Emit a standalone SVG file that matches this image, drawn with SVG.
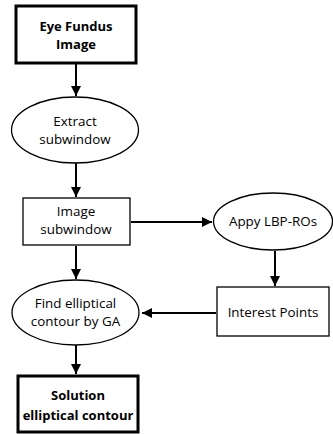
<svg xmlns="http://www.w3.org/2000/svg" width="333" height="434" viewBox="0 0 333 434">
<defs>
<marker id="ah" viewBox="0 0 10 10" refX="10" refY="5" markerWidth="5" markerHeight="5" orient="auto" markerUnits="strokeWidth">
<path d="M0,0 L10,5 L0,10 z" fill="#000"/>
</marker>
<style>
.t{font-family:"Open Sans","Liberation Sans",sans-serif;font-size:13.4px;fill:#000;text-anchor:middle}
.b{font-weight:bold;font-size:13px}
.n{fill:#fff;stroke:#000;stroke-width:1.3}
.k{fill:#fff;stroke:#000;stroke-width:3}
.c{stroke:#000;stroke-width:2;fill:none;marker-end:url(#ah)}
</style>
</defs>
<rect width="333" height="434" fill="#fff"/>
<g id="connectors">
<line class="c" x1="76" y1="63" x2="76" y2="96"/>
<line class="c" x1="76" y1="163" x2="76" y2="197"/>
<line class="c" x1="131" y1="222" x2="212" y2="222"/>
<line class="c" x1="76" y1="246" x2="76" y2="279"/>
<line class="c" x1="275" y1="251" x2="275" y2="286"/>
<line class="c" x1="216" y1="313" x2="142" y2="313"/>
<line class="c" x1="76" y1="345" x2="76" y2="374"/>
</g>
<g id="n1">
<rect class="k" x="16" y="6" width="120" height="57"/>
<text class="t b" x="76" y="31">Eye Fundus</text>
<text class="t b" x="76" y="49">Image</text>
</g>
<g id="n2">
<ellipse class="n" cx="75" cy="130" rx="63.5" ry="33"/>
<text class="t" x="75" y="126">Extract</text>
<text class="t" x="75" y="144">subwindow</text>
</g>
<g id="n3">
<rect class="n" x="23" y="198" width="107" height="47"/>
<text class="t" x="76" y="216">Image</text>
<text class="t" x="76" y="234">subwindow</text>
</g>
<g id="n4">
<ellipse class="n" cx="273" cy="221.5" rx="59.5" ry="28.5"/>
<text class="t" x="273" y="226">Appy LBP-ROs</text>
</g>
<g id="n5">
<rect class="n" x="217" y="287" width="112" height="49"/>
<text class="t" x="273" y="317">Interest Points</text>
</g>
<g id="n6">
<ellipse class="n" cx="75.5" cy="312.5" rx="63.5" ry="32.5"/>
<text class="t" x="75.5" y="308">Find elliptical</text>
<text class="t" x="75.5" y="326">contour by GA</text>
</g>
<g id="n7">
<rect class="k" x="18" y="376" width="120" height="56"/>
<text class="t b" x="78" y="400">Solution</text>
<text class="t b" x="78" y="420">elliptical contour</text>
</g>
</svg>
